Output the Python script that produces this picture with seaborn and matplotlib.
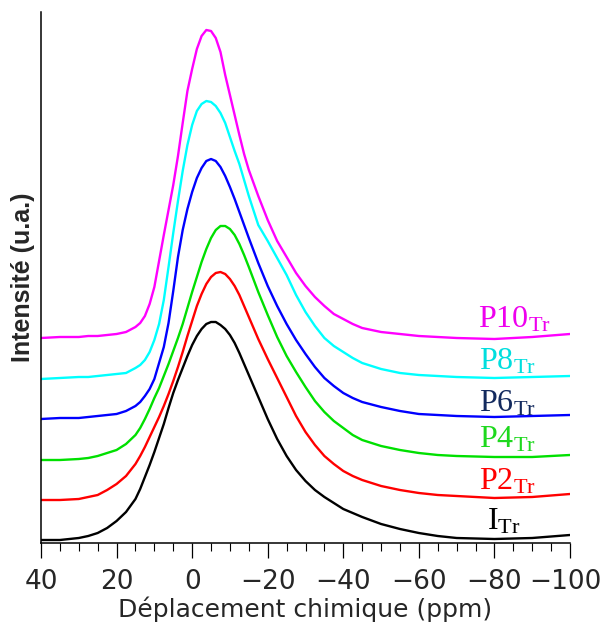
import numpy as np
import pandas as pd
import matplotlib
matplotlib.use("Agg")
import matplotlib.pyplot as plt
import matplotlib.transforms as mtransforms
from matplotlib.ticker import MultipleLocator, NullLocator
import seaborn as sns

# ---- data (stacked spectra, arbitrary units) ----
ppm = [40, 35, 30, 27.5, 25, 22.5, 20, 17.5, 15, 13.75, 12.5, 11.25, 10,
       8.75, 7.5, 6.25, 5, 3.75, 2.5, 1.25, 0, -1.25, -2.5, -3.75, -5, -6.25,
       -7.5, -8.75, -10, -11.25, -12.5, -13.75, -15,
       -17.5, -20, -22.5, -25, -27.5, -30, -32.5, -35, -37.5, -40, -42.5, -45,
       -50, -55, -60, -65, -70, -80, -90, -100]

I_Tr = [3, 3, 5, 7, 10, 15, 22, 31, 44, 54, 66, 78, 91,
        105, 119, 135, 150, 163, 175, 187, 198, 207, 214, 219, 221, 221,
        218, 214, 208, 200, 190, 179, 168,
        146, 124, 104, 87, 73, 62, 53, 46, 40, 34, 30, 26,
        19, 14, 10, 7, 5, 4, 5, 8]
P2_Tr = [43, 43, 44, 46, 48, 53, 59, 67, 79, 87, 96, 106, 116,
         126, 137, 149, 162, 176, 191, 207, 222, 237, 249, 259, 266, 270,
         271, 269, 264, 257, 248, 237, 226,
         204, 184, 165, 146, 127, 111, 98, 87, 79, 72, 67, 63,
         57, 53, 50, 48, 47, 45, 46, 49]
P4_Tr = [83, 83, 84, 85, 87, 90, 93, 99, 108, 115, 124, 134, 145,
         155, 167, 179, 192, 205, 219, 235, 251, 266, 281, 294, 305, 313,
         317, 317, 314, 308, 299, 288, 276,
         251, 228, 206, 187, 171, 156, 142, 131, 122, 115, 108, 103,
         97, 93, 90, 88, 87, 86, 86, 88]
P6_Tr = [124, 125, 125, 126, 127, 128, 129, 132, 137, 141, 147, 154, 164,
         180, 196, 220, 252, 286, 313, 334, 351, 365, 375, 382, 384, 382,
         376, 367, 356, 344, 331, 318, 305,
         280, 257, 237, 219, 203, 189, 176, 165, 157, 150, 145, 141,
         136, 132, 129, 128, 127, 126, 127, 128]
P8_Tr = [164, 165, 166, 166, 167, 168, 169, 170, 175, 178, 183, 191, 203,
         219, 243, 276, 310, 342, 372, 398, 418, 432, 439, 442, 441, 437,
         430, 420, 406, 392, 379, 363, 347,
         318, 302, 285, 268, 248, 231, 217, 205, 197, 191, 185, 180,
         174, 170, 168, 167, 166, 165, 166, 167]
P10_Tr = [205, 206, 206, 207, 207, 208, 209, 211, 216, 220, 227, 239, 256,
          282, 308, 333, 358, 387, 420, 452, 474, 494, 507, 513, 512, 505,
          491, 468, 448, 428, 408, 389, 373,
          347, 323, 302, 286, 270, 257, 246, 237, 229, 224, 219, 215,
          211, 209, 207, 206, 205, 204, 206, 209]

samples = ["I", "P2", "P4", "P6", "P8", "P10"]
series = [I_Tr, P2_Tr, P4_Tr, P6_Tr, P8_Tr, P10_Tr]
line_colors = ["#000000", "#ff0000", "#00e000", "#0000ff", "#00ffff", "#ff00ff"]
label_colors = ["#000000", "#ff0000", "#1ed81e", "#132a5e", "#00dede", "#ee00ee"]
label_texts = [r"$\mathrm{I}_{\mathrm{Tr}}$", r"$\mathrm{P2}_{\mathrm{Tr}}$",
               r"$\mathrm{P4}_{\mathrm{Tr}}$", r"$\mathrm{P6}_{\mathrm{Tr}}$",
               r"$\mathrm{P8}_{\mathrm{Tr}}$", r"$\mathrm{P10}_{\mathrm{Tr}}$"]
label_x = [-78.0, -75.8, -75.8, -75.8, -75.8, -75.6]
label_y = [13, 53, 95, 131, 173, 216]

xticks = [40, 20, 0, -20, -40, -60, -80, -100]
xlabel = "Déplacement chimique (ppm)"
ylabel = "Intensité (u.a.)"

df = pd.DataFrame({
    "ppm": np.tile(ppm, len(samples)),
    "intensity": np.concatenate(series),
    "sample": np.repeat(samples, len(ppm)),
})

sns.set_style("white")
plt.rcParams["font.family"] = ["DejaVu Sans"]
plt.rcParams["mathtext.fontset"] = "custom"
plt.rcParams["mathtext.rm"] = "Liberation Serif"
plt.rcParams["mathtext.it"] = "Liberation Serif:italic"

fig = plt.figure(figsize=(6.04, 6.25), dpi=100)
ax = fig.add_axes([41 / 604, 82 / 625, 529 / 604, 531 / 625])

sns.lineplot(data=df, x="ppm", y="intensity", hue="sample", palette=line_colors,
             hue_order=samples, sort=False, estimator=None, legend=False,
             linewidth=1.7, ax=ax)

ax.set_xlim(40, -100)
ax.set_ylim(0, 531)
ax.xaxis.set_major_locator(MultipleLocator(20))
ax.xaxis.set_minor_locator(MultipleLocator(5))
ax.set_xticks(xticks)
ax.set_xticklabels([f"{t}".replace("-", "\u2212") for t in xticks])
ax.yaxis.set_major_locator(NullLocator())
ax.tick_params(axis="x", which="major", direction="out", length=11, width=0.9,
               labelsize=19, pad=8, bottom=True, color="black")
ax.tick_params(axis="x", which="minor", direction="out", length=6, width=0.8,
               bottom=True, color="black")
ax.tick_params(axis="y", left=False, labelleft=False)

# nudge the last tick label so it stays inside the canvas, as in the reference
last = ax.get_xticklabels()[-1]
last.set_transform(last.get_transform() +
                   mtransforms.ScaledTranslation(-5 / 100, 0, fig.dpi_scale_trans))

for s in ["top", "right"]:
    ax.spines[s].set_visible(False)
for s in ["left", "bottom"]:
    ax.spines[s].set_color("black")
    ax.spines[s].set_linewidth(1.1)

ax.set_xlabel(xlabel, fontsize=18)
ax.xaxis.set_label_coords(0.5, -0.1)
ax.set_ylabel(ylabel, fontsize=18, fontweight="bold", family="Liberation Sans")
ax.yaxis.set_label_coords(-0.012, 0.5)

for t, c, x, y in zip(label_texts, label_colors, label_x, label_y):
    ax.text(x, y, t, color=c, fontsize=23, ha="left", va="baseline")

fig.savefig("out.png", dpi=100)
